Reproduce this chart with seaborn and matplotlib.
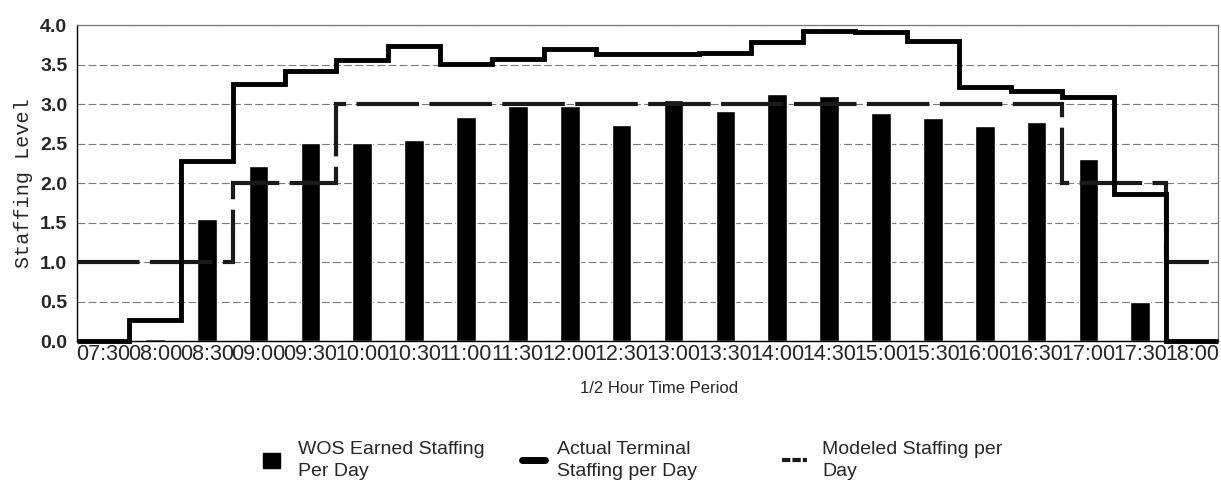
import matplotlib.pyplot as plt
import seaborn as sns
import numpy as np
from matplotlib.lines import Line2D
from matplotlib.patches import Patch

# half hour periods
periods = ["07:30", "08:00", "08:30", "09:00", "09:30", "10:00", "10:30", "11:00",
           "11:30", "12:00", "12:30", "13:00", "13:30", "14:00", "14:30", "15:00",
           "15:30", "16:00", "16:30", "17:00", "17:30", "18:00"]

# WOS earned staffing per day (bars)
wos_earned = [0.0, 0.02, 1.55, 2.22, 2.51, 2.51, 2.54, 2.84, 2.97, 2.97, 2.74,
              3.05, 2.91, 3.13, 3.10, 2.88, 2.82, 2.72, 2.77, 2.31, 0.49, 0.0]

# actual terminal staffing per day (solid step line)
actual_terminal = [0.0, 0.26, 2.28, 3.25, 3.42, 3.56, 3.73, 3.51, 3.57, 3.70, 3.63,
                   3.63, 3.65, 3.79, 3.93, 3.91, 3.80, 3.21, 3.17, 3.09, 1.86, 0.0]

# modeled staffing per day (dashed step line)
modeled = [1, 1, 1, 2, 2, 3, 3, 3, 3, 3, 3, 3, 3, 3, 3, 3, 3, 3, 3, 2, 2, 1]

y_ticks = [0.0, 0.5, 1.0, 1.5, 2.0, 2.5, 3.0, 3.5, 4.0]

sns.set_style("white")
plt.rcParams["font.family"] = ["Liberation Sans", "DejaVu Sans"]

fig = plt.figure(figsize=(12.21, 4.82), dpi=100)
ax = fig.add_axes([0.0631, 0.2925, 0.9345, 0.6556])

sns.barplot(x=periods, y=wos_earned, color="black", saturation=1, width=0.38, ax=ax, zorder=2)

edges = np.arange(len(periods) + 1) - 0.5
ax.stairs(modeled, edges, baseline=None, color="#1a1a1a", linewidth=3,
          linestyle=(0, (15, 2.5)), zorder=3)
ax.stairs(actual_terminal, edges, baseline=None, color="black", linewidth=3.5,
          zorder=4, clip_on=False)

ax.set_xlim(-0.5, len(periods) - 0.5)
ax.set_ylim(0, 4)
ax.set_yticks(y_ticks)
ax.set_yticklabels([f"{v:.1f}" for v in y_ticks], fontsize=14, fontweight="bold")
ax.tick_params(axis="x", labelsize=15.5, length=0, pad=2)
ax.tick_params(axis="y", length=0, pad=7)

ax.yaxis.grid(True, color="#7a7a7a", linestyle=(0, (7, 3)), linewidth=0.8)
ax.set_axisbelow(True)
for side in ["top", "right"]:
    ax.spines[side].set_color("#777777")
    ax.spines[side].set_linewidth(0.9)
for side in ["left", "bottom"]:
    ax.spines[side].set_color("black")
    ax.spines[side].set_linewidth(1.0)

ax.set_ylabel("Staffing Level", fontsize=14.5, family="Liberation Mono")
ax.yaxis.set_label_coords(-0.039, 0.5)
ax.set_xlabel("1/2 Hour Time Period", fontsize=12)
ax.xaxis.set_label_coords(0.51, -0.127)

# three legend entries, evenly spaced like the original
entries = [
    (Patch(facecolor="black", edgecolor="black"), "WOS Earned Staffing\nPer Day",
     263, 0.88, 0.82, 0.93),
    (Line2D([0], [0], color="black", linewidth=5), "Actual Terminal\nStaffing per Day",
     522, 1.19, 0.7, 0.62),
    (Line2D([0], [0], color="#1a1a1a", linewidth=3, linestyle=(0, (2, 0.5))),
     "Modeled Staffing per\nDay", 782, 1.29, 0.7, 0.77),
]
for handle, label, x_px, hlen, hheight, hpad in entries:
    leg = fig.legend([handle], [label], loc="upper left",
                     bbox_to_anchor=(x_px / 1221, 0.086), frameon=False,
                     fontsize=14, borderpad=0, borderaxespad=0,
                     handlelength=hlen, handleheight=hheight, handletextpad=hpad)
    for t in leg.get_texts():
        t.set_linespacing(1.45)

fig.savefig("out.png", dpi=100)
